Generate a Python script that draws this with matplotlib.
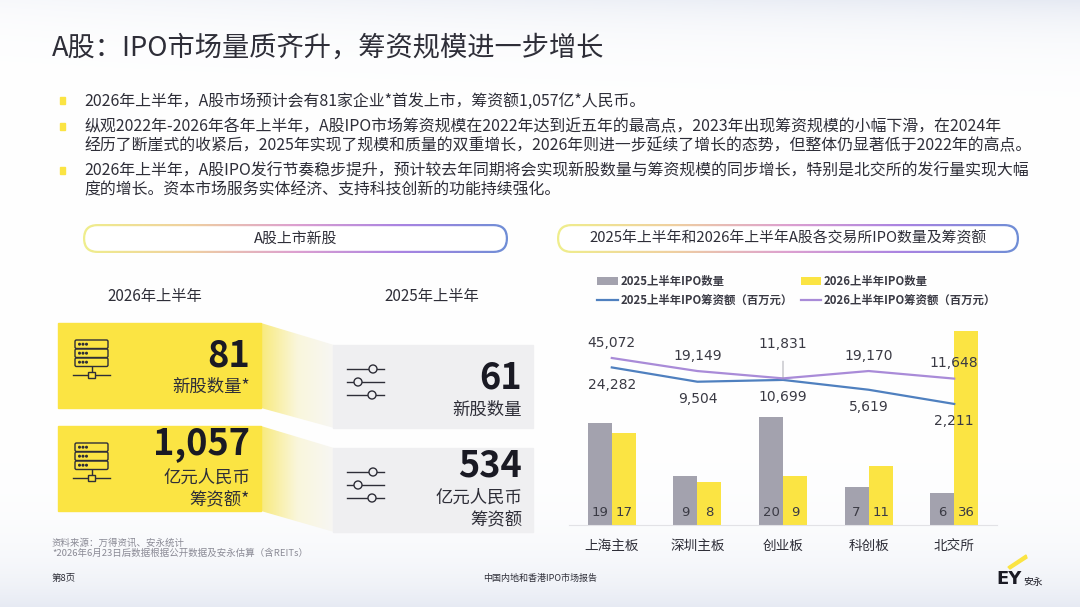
import numpy as np
import matplotlib.pyplot as plt
from matplotlib.patches import FancyBboxPatch, Rectangle, Polygon, Circle
from matplotlib.colors import LinearSegmentedColormap, to_rgb

plt.rcParams['font.family'] = ['Noto Sans CJK SC', 'DejaVu Sans']

# ---- data ----
exchanges = ['上海主板', '深圳主板', '创业板', '科创板', '北交所']
ipo_2025 = [19, 9, 20, 7, 6]
ipo_2026 = [17, 8, 9, 11, 36]
fund_2025 = [24282, 9504, 10699, 5619, 2211]      # 百万元
fund_2026 = [45072, 19149, 11831, 19170, 11648]   # 百万元

new_2026, raise_2026 = 81, 1057
new_2025, raise_2025 = 61, 534

title = 'A股：IPO市场量质齐升，筹资规模进一步增长'
bullets = [
    ['2026年上半年，A股市场预计会有81家企业*首发上市，筹资额1,057亿*人民币。'],
    ['纵观2022年-2026年各年上半年，A股IPO市场筹资规模在2022年达到近五年的最高点，2023年出现筹资规模的小幅下滑，在2024年',
     '经历了断崖式的收紧后，2025年实现了规模和质量的双重增长，2026年则进一步延续了增长的态势，但整体仍显著低于2022年的高点。'],
    ['2026年上半年，A股IPO发行节奏稳步提升，预计较去年同期将会实现新股数量与筹资规模的同步增长，特别是北交所的发行量实现大幅',
     '度的增长。资本市场服务实体经济、支持科技创新的功能持续强化。'],
]

DARK = '#2E2E38'
YELLOW = '#FBE443'
GREY_BAR = '#A3A2AE'
BLUE = '#4F80BF'
PURPLE = '#A98BD8'
BOX_GREY = '#EFEFF1'

W, H = 1080, 607
fig = plt.figure(figsize=(10.8, 6.07), dpi=100)
bg = fig.add_axes([0, 0, 1, 1])
bg.axis('off')

# soft background haze
yy, xx = np.mgrid[0:H, 0:W]
haze = np.clip(np.exp(-yy / 30.0) * (0.3 + 0.7 * xx / W) + np.exp(-(H - yy) / 45.0), 0, 1)
tint = np.array(to_rgb('#E6EAF3'))
img = 1 - haze[..., None] * (1 - tint)
bg.imshow(img, extent=(0, W, H, 0), aspect='auto', zorder=0)
bg.set_xlim(0, W)
bg.set_ylim(H, 0)

# ---- title and bullets ----
bg.text(52, 48, title, fontsize=19.6, color=DARK, va='center', ha='left')
line_y = [[101], [127, 146], [171, 190]]
for lines, ys in zip(bullets, line_y):
    bg.add_patch(Rectangle((60, ys[0] - 4), 5, 7, color=YELLOW, zorder=2))
    for txt, y in zip(lines, ys):
        bg.text(84, y, txt, fontsize=11.45, color=DARK, va='center', ha='left')

# ---- gradient pills ----
pill_cmap = LinearSegmentedColormap.from_list(
    'pill', ['#EFEE8C', '#EFD0A0', '#DDA0D0', '#A983E2', '#6F8ED6'])


def pill(x0, x1, y0, y1, text):
    h = y1 - y0
    outer = FancyBboxPatch((x0, y0), x1 - x0, h,
                           boxstyle=f'round,pad=0,rounding_size={h / 2}',
                           fc='none', ec='none')
    bg.add_patch(outer)
    im = bg.imshow(np.linspace(0, 1, 256)[None, :], cmap=pill_cmap,
                   extent=(x0, x1, y1, y0), aspect='auto', zorder=2)
    im.set_clip_path(outer)
    bg.add_patch(FancyBboxPatch((x0 + 2.2, y0 + 2.2), x1 - x0 - 4.4, h - 4.4,
                                boxstyle=f'round,pad=0,rounding_size={h / 2 - 2.2}',
                                fc='white', ec='none', zorder=3))
    bg.text((x0 + x1) / 2, (y0 + y1) / 2, text, ha='center', va='center',
            fontsize=10.7, color=DARK, zorder=4)


pill(83, 508, 224, 253, 'A股上市新股')
pill(557, 1019, 224, 253, '2025年上半年和2026年上半年A股各交易所IPO数量及筹资额')

# ---- left panel ----
bg.text(155, 297, '2026年上半年', fontsize=11, color=DARK, ha='center', va='center')
bg.text(432, 297, '2025年上半年', fontsize=11, color=DARK, ha='center', va='center')

conn_cmap = LinearSegmentedColormap.from_list('conn', ['#F8EA7C', '#FAF6DC', '#F7F7F4'])
for (ya0, ya1, yb0, yb1) in [(323, 408, 345, 428), (426, 511, 448, 532)]:
    poly = Polygon([(261, ya0), (334, yb0), (334, yb1), (261, ya1)], closed=True,
                   fc='none', ec='none')
    bg.add_patch(poly)
    im = bg.imshow(np.linspace(0, 1, 256)[None, :], cmap=conn_cmap,
                   extent=(261, 334, yb1, ya0), aspect='auto', zorder=1)
    im.set_clip_path(poly)

bg.add_patch(Rectangle((58, 323), 203, 85, color=YELLOW, zorder=2))
bg.add_patch(Rectangle((58, 426), 203, 85, color=YELLOW, zorder=2))
bg.add_patch(Rectangle((333, 345), 200, 83, color=BOX_GREY, zorder=2))
bg.add_patch(Rectangle((333, 448), 200, 84, color=BOX_GREY, zorder=2))


def server_icon(x0, y0):
    for k in range(3):
        bg.add_patch(FancyBboxPatch((x0 + 2, y0 + k * 9), 33, 8.5,
                                    boxstyle='round,pad=0,rounding_size=1.5',
                                    fc='none', ec=DARK, lw=1, zorder=3))
        for d in range(3):
            bg.add_patch(Circle((x0 + 6.5 + d * 3.5, y0 + k * 9 + 4.2), 0.8,
                                color=DARK, zorder=3))
    bg.plot([x0 + 18.5, x0 + 18.5], [y0 + 27, y0 + 32], color=DARK, lw=1, zorder=3)
    bg.plot([x0, x0 + 37], [y0 + 35, y0 + 35], color=DARK, lw=1, zorder=3)
    bg.add_patch(Rectangle((x0 + 15, y0 + 32), 7, 6, fc=YELLOW, ec=DARK, lw=1, zorder=4))


def slider_icon(x0, y0):
    for k, cx in enumerate([26, 11, 25]):
        y = y0 + k * 13
        bg.plot([x0, x0 + 37], [y, y], color=DARK, lw=1, zorder=3)
        bg.add_patch(Circle((x0 + cx, y), 4, fc=BOX_GREY, ec=DARK, lw=1, zorder=4))


server_icon(73, 340)
server_icon(73, 443)
slider_icon(347, 369)
slider_icon(347, 472)

bg.text(250, 356, f'{new_2026}', fontsize=26, fontweight='bold', color='#1A1A24',
        ha='right', va='center', zorder=5)
bg.text(250, 387, '新股数量*', fontsize=12.5, color=DARK, ha='right', va='center', zorder=5)
bg.text(250, 444, f'{raise_2026:,}', fontsize=26, fontweight='bold', color='#1A1A24',
        ha='right', va='center', zorder=5)
bg.text(250, 478, '亿元人民币', fontsize=12.5, color=DARK, ha='right', va='center', zorder=5)
bg.text(250, 500, '筹资额*', fontsize=12.5, color=DARK, ha='right', va='center', zorder=5)

bg.text(522, 378, f'{new_2025}', fontsize=26, fontweight='bold', color='#1A1A24',
        ha='right', va='center', zorder=5)
bg.text(522, 410, '新股数量', fontsize=12.5, color=DARK, ha='right', va='center', zorder=5)
bg.text(522, 466, f'{raise_2025}', fontsize=26, fontweight='bold', color='#1A1A24',
        ha='right', va='center', zorder=5)
bg.text(522, 498, '亿元人民币', fontsize=12.5, color=DARK, ha='right', va='center', zorder=5)
bg.text(522, 520, '筹资额', fontsize=12.5, color=DARK, ha='right', va='center', zorder=5)

bg.text(52, 543, '资料来源：万得资讯、安永统计', fontsize=6.8, color='#8A8A95', va='center')
bg.text(52, 553, '*2026年6月23日后数据根据公开数据及安永估算（含REITs）', fontsize=6.8,
        color='#8A8A95', va='center')

# ---- footer ----
bg.text(52, 578, '第8页', fontsize=6.8, color=DARK, va='center')
bg.text(540, 578, '中国内地和香港IPO市场报告', fontsize=6.5, color=DARK, ha='center', va='center')
bg.text(1022, 579, 'EY', fontsize=13, fontweight='bold', color='#1A1A24', ha='right',
        va='center', family='DejaVu Sans')
bg.text(1023, 582, '安永', fontsize=7, color='#1A1A24', ha='left', va='center')
bg.add_patch(Polygon([(1008, 567), (1026, 555), (1027, 558), (1010, 569)], color=YELLOW, zorder=3))

# ---- bar + line chart ----
ax = fig.add_axes([569 / W, (H - 525) / H, (997 - 569) / W, 200 / H])
ax.patch.set_alpha(0)
x = np.arange(len(exchanges))
bw = 24 / 85.5
b1 = ax.bar(x - bw / 2, ipo_2025, bw, color=GREY_BAR, label='2025上半年IPO数量', zorder=2)
b2 = ax.bar(x + bw / 2, ipo_2026, bw, color=YELLOW, label='2026上半年IPO数量', zorder=2)
ax.set_xlim(-0.5, 4.5)
ax.set_ylim(0, 200 / 5.39)
for s in ['top', 'left', 'right']:
    ax.spines[s].set_visible(False)
ax.spines['bottom'].set_color('#E2E2E6')
ax.set_yticks([])
ax.set_xticks(x, exchanges)
ax.tick_params(axis='x', length=0, pad=10, labelsize=9.8, labelcolor=DARK)
for xi, v in zip(x - bw / 2, ipo_2025):
    ax.text(xi, 2.4, str(v), ha='center', va='center', fontsize=9.5, color='#3A3A44',
            family='DejaVu Sans', zorder=3)
for xi, v in zip(x + bw / 2, ipo_2026):
    ax.text(xi, 2.4, str(v), ha='center', va='center', fontsize=9.5, color='#3A3A44',
            family='DejaVu Sans', zorder=3)

ax2 = ax.twinx()
ax2.set_yscale('log')
ax2.set_ylim(10 ** -0.104, 10 ** 5.594)
ax2.axis('off')
l1, = ax2.plot(x, fund_2025, color=BLUE, lw=1.6, label='2025上半年IPO筹资额（百万元）')
l2, = ax2.plot(x, fund_2026, color=PURPLE, lw=1.6, label='2026上半年IPO筹资额（百万元）')
for i, v in enumerate(fund_2025):
    ax2.annotate(f'{v:,}', (x[i], v), xytext=(0, -12.5), textcoords='offset points',
                 ha='center', va='center', fontsize=10, color='#3A3A44', family='DejaVu Sans')
for i, v in enumerate(fund_2026):
    if i == 2:
        ax2.annotate(f'{v:,}', (x[i], v), xytext=(0, 24.5), textcoords='offset points',
                     ha='center', va='center', fontsize=10, color='#3A3A44',
                     family='DejaVu Sans',
                     arrowprops=dict(arrowstyle='-', color='#9A9AA4', lw=0.6,
                                     shrinkA=5, shrinkB=0))
    else:
        ax2.annotate(f'{v:,}', (x[i], v), xytext=(0, 11), textcoords='offset points',
                     ha='center', va='center', fontsize=10, color='#3A3A44',
                     family='DejaVu Sans')

fig.legend([b1, l1, b2, l2],
           [b1.get_label(), l1.get_label(), b2.get_label(), l2.get_label()],
           loc='upper left', bbox_to_anchor=(597 / W, 1 - 275 / H), ncol=2,
           frameon=False, prop={'size': 8.2, 'weight': 'bold'}, handlelength=1.8,
           handletextpad=0.25, columnspacing=0.7, labelspacing=0.5, borderpad=0,
           borderaxespad=0, labelcolor='#3A3A44')

fig.savefig('out.png', dpi=100)
